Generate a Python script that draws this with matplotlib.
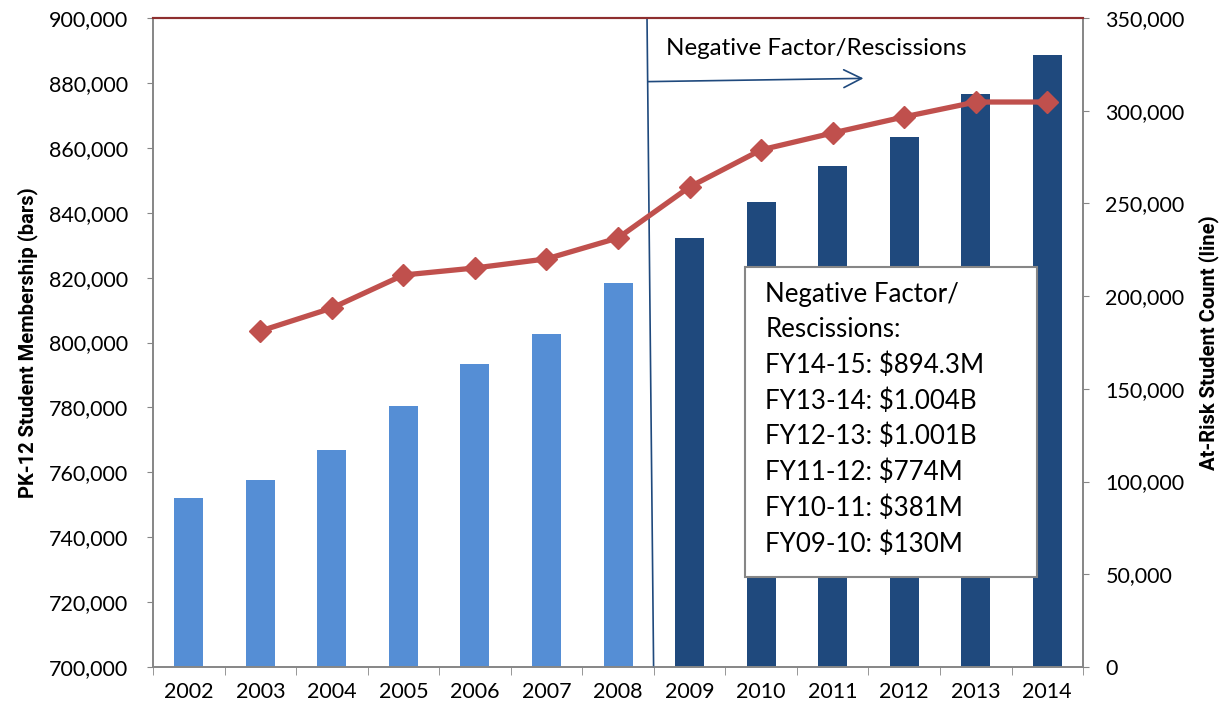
import matplotlib.pyplot as plt
from matplotlib.patches import Rectangle
from matplotlib.ticker import FuncFormatter, FixedLocator

plt.rcParams['font.family'] = ['Lato', 'DejaVu Sans']

years = ['2002', '2003', '2004', '2005', '2006', '2007', '2008',
         '2009', '2010', '2011', '2012', '2013', '2014']
membership = [752100, 757600, 766900, 780400, 793400, 802600, 818300,
              832200, 843300, 854400, 863300, 876600, 888600]
at_risk_years = years[1:]
at_risk = [181200, 193600, 211400, 215200, 220100, 231400,
           258900, 278900, 288000, 296700, 304700, 304700]
rescissions = ['FY14-15: $894.3M', 'FY13-14: $1.004B', 'FY12-13: $1.001B',
               'FY11-12: $774M', 'FY10-11: $381M', 'FY09-10: $130M']

light = '#558ED5'
dark = '#1F497D'
red = '#C0504D'
gray = '#868686'

fig = plt.figure(figsize=(12.27, 7.15), dpi=100)
ax = fig.add_axes([0.1247, 0.0671, 0.758, 0.9077])
ax2 = ax.twinx()

x = list(range(len(years)))
colors = [light if int(y) < 2009 else dark for y in years]
ax.bar(x, membership, width=0.405, color=colors, zorder=2)
ax.set_ylim(700000, 900000)
ax.set_xlim(-0.5, len(years) - 0.5)
ax.set_yticks(range(700000, 900001, 20000))
fmt = FuncFormatter(lambda v, p: f'{int(v):,}')
ax.yaxis.set_major_formatter(fmt)
ax.set_xticks(x)
ax.set_xticklabels(years)
ax.xaxis.set_minor_locator(FixedLocator([i - 0.5 for i in range(len(years) + 1)]))
ax.tick_params(axis='x', which='major', length=0, labelsize=15.5, pad=11)
ax.tick_params(axis='x', which='minor', length=6, color=gray)
ax.tick_params(axis='y', length=4, color=gray, labelsize=15.5, pad=14)
lab_font = dict(family=['Roboto', 'DejaVu Sans'], fontsize=14.5, fontweight='bold')
ax.set_ylabel('PK-12 Student Membership (bars)', labelpad=8, **lab_font)

xi = [years.index(y) for y in at_risk_years]
ax2.plot(xi, at_risk, color=red, lw=3.8, marker='D', ms=11, zorder=3)
ax2.set_ylim(0, 350000)
ax2.set_yticks(range(0, 350001, 50000))
ax2.yaxis.set_major_formatter(fmt)
ax2.tick_params(axis='y', length=4, color=gray, labelsize=15.5, pad=12)
ax2.set_ylabel('At-Risk Student Count (line)', labelpad=10, **lab_font)

for a in (ax, ax2):
    for s in ('left', 'right', 'bottom'):
        a.spines[s].set_color(gray)
        a.spines[s].set_linewidth(1.2)
    a.spines['top'].set_color('#8E2F2F')
    a.spines['top'].set_linewidth(1.5)

# dividing line between 2008 and 2009
ax.plot([6.405, 6.497], [900000, 700000], color=dark, lw=1.2, zorder=4, clip_on=False)
ax.annotate('', xy=(9.43, 881400), xytext=(6.42, 880400),
            arrowprops=dict(arrowstyle='->', color=dark, lw=1.2,
                            mutation_scale=32, shrinkA=0, shrinkB=0), zorder=4)
ax.text(6.675, 888600, 'Negative Factor/Rescissions', fontsize=17.4,
        va='baseline', ha='left')

ax.add_patch(Rectangle((7.78, 727700), 11.86 - 7.78, 823300 - 727700,
                       fc='white', ec=gray, lw=1.5, zorder=5))
box_text = 'Negative Factor/\nRescissions:\n' + '\n'.join(rescissions)
ax.text(8.06, 818600, box_text, fontsize=18.6, va='top', ha='left',
        linespacing=1.5, zorder=6)

fig.savefig('out.png', dpi=100)
